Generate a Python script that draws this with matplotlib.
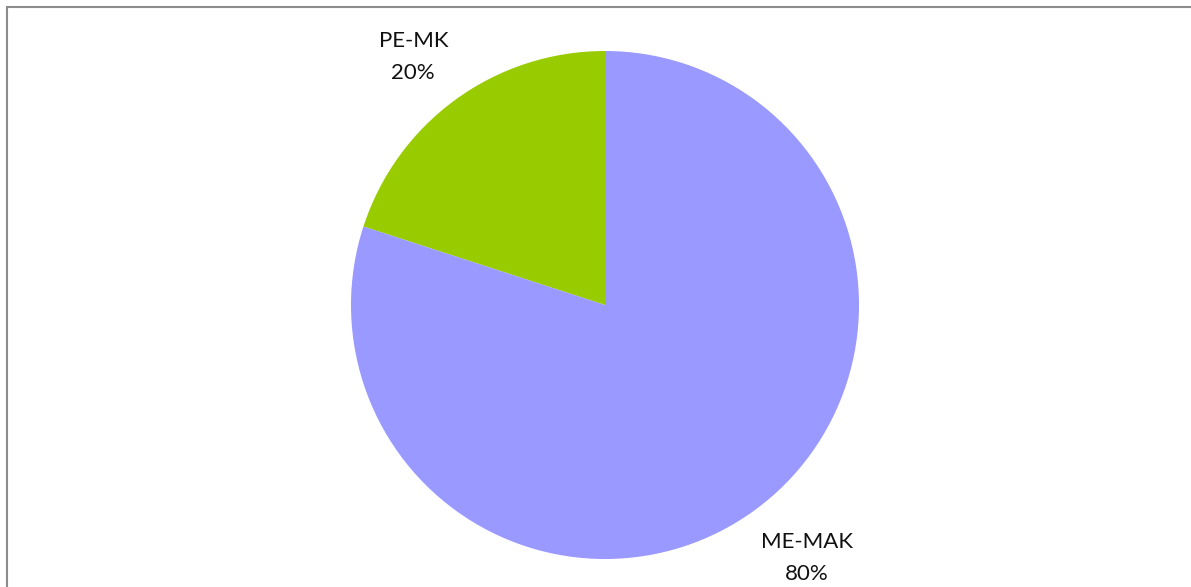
import matplotlib
matplotlib.use("Agg")
import matplotlib.pyplot as plt
from matplotlib.patches import Rectangle

categories = ["PE-MK", "ME-MAK"]
values = [20, 80]
colors = ["#99CC00", "#9999FF"]

W, H = 1191, 587
fig = plt.figure(figsize=(W / 100, H / 100), dpi=100)
fig.patch.set_facecolor("white")

# frame (cropped at right/bottom as in the reference)
fig.patches.append(Rectangle((6.5 / W, -0.05), 1.2, (H - 6.5) / H + 0.05,
                             transform=fig.transFigure, fill=False,
                             edgecolor="#8c8c8c", linewidth=1.5))

cx, cy, r = 605, 305, 254
ax = fig.add_axes([(cx - r) / W, (H - cy - r) / H, 2 * r / W, 2 * r / H])
labels = [f"{c}\n{v}%" for c, v in zip(categories, values)]
wedges, texts = ax.pie(values, colors=colors, startangle=90, counterclock=True,
                       labels=labels, labeldistance=1.25,
                       textprops=dict(fontsize=16, family=["Lato", "DejaVu Sans"],
                                      color="#111111", linespacing=1.75))
offsets = [(-0.02, -0.035), (0.06, 0.015)]
for t, (dx, dy) in zip(texts, offsets):
    t.set_ha("center")
    t.set_va("center")
    x, y = t.get_position()
    t.set_position((x + dx, y + dy))
ax.set_xlim(-1, 1)
ax.set_ylim(-1, 1)
ax.set_aspect("equal")
ax.axis("off")

fig.savefig("out.png", dpi=100)
